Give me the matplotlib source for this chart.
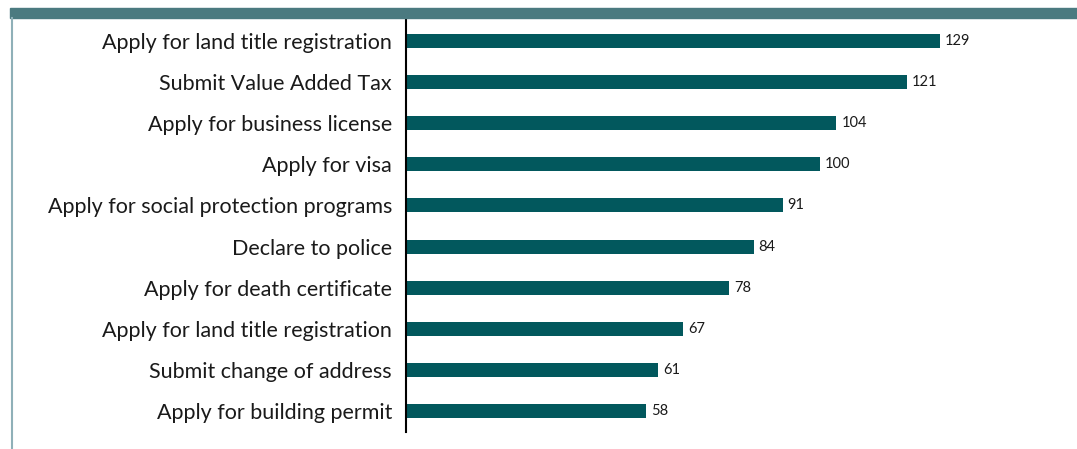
import matplotlib.pyplot as plt
from matplotlib.patches import Rectangle
from matplotlib.lines import Line2D

# Données
services = ["Apply for land title registration", "Submit Value Added Tax",
            "Apply for business license", "Apply for visa",
            "Apply for social protection programs", "Declare to police",
            "Apply for death certificate", "Apply for land title registration",
            "Submit change of address", "Apply for building permit"]
valeurs = [129, 121, 104, 100, 91, 84, 78, 67, 61, 58]

bar_color = '#02585d'
W, H = 1077, 449

plt.rcParams['font.family'] = ['Lato', 'DejaVu Sans']
fig = plt.figure(figsize=(W / 100, H / 100), dpi=100)

# Cadre décoratif : bandeau en haut et filet à gauche
fig.patches.append(Rectangle((10 / W, 1 - 18 / H), 1 - 10 / W, 10 / H,
                             transform=fig.transFigure, color='#4b7a80', zorder=0))
fig.lines.append(Line2D([12 / W, 12 / W], [0, 1 - 18 / H], transform=fig.transFigure,
                        color='#8fb0b8', lw=1.5))

ax = fig.add_axes([406 / W, 1 - 432 / H, 654 / W, 412 / H])
y = range(len(services))
ax.barh(y, valeurs, height=0.34, color=bar_color)
for yi, v in zip(y, valeurs):
    ax.text(v + 1.2, yi, str(v), va='center', ha='left', fontsize=10.5, color='#1a1a1a')

ax.set_ylim(9.5, -0.5)
ax.set_xlim(0, 158)
ax.set_yticks(list(y))
ax.set_yticklabels(services, fontsize=15.5, color='#1a1a1a')
ax.tick_params(axis='y', length=0, pad=10)
ax.set_xticks([])
for s in ['top', 'right', 'bottom']:
    ax.spines[s].set_visible(False)
ax.spines['left'].set_linewidth(1.5)
ax.spines['left'].set_color('black')

plt.savefig('out.png', dpi=100)
